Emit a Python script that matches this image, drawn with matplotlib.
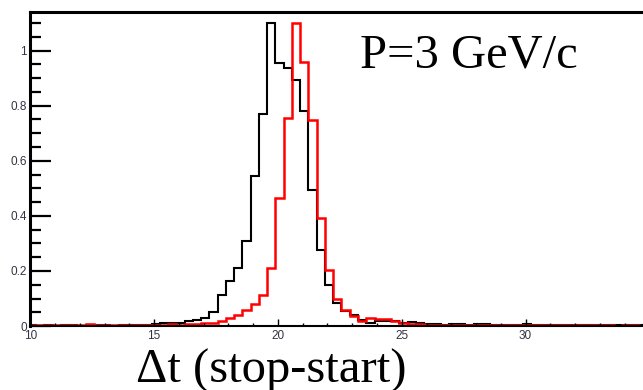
# time difference histograms (stop-start), two momentum hypotheses
import numpy as np
import matplotlib.pyplot as plt

# binning: 76 bins of 1/3 ns starting at 9.9
bin_start = 9.9
bin_width = 1.0 / 3.0

# black histogram contents
black_counts = [0.002, 0, 0.003, 0, 0.002, 0.003, 0, 0.002, 0.004, 0.002,
                0, 0.003, 0.002, 0.004, 0.003, 0.008, 0.01, 0.012, 0.012, 0.02,
                0.022, 0.028, 0.05, 0.113, 0.165, 0.21, 0.31, 0.545, 0.77, 1.10,
                0.955, 0.937, 0.895, 0.78, 0.495, 0.276, 0.149, 0.083, 0.055, 0.04,
                0.022, 0.012, 0.02, 0.02, 0.018, 0.012, 0.015, 0.012, 0.008, 0.006,
                0.005, 0.008, 0.006, 0.004, 0.006, 0.007, 0.005, 0.003, 0.005, 0.004,
                0.006, 0.003, 0.004, 0.005, 0.003, 0.004, 0.002, 0.004, 0.003, 0.005,
                0.002, 0.003, 0.004, 0.002, 0.003, 0.002]

# red histogram contents
red_counts = [0.003, 0.002, 0.003, 0.004, 0.003, 0.002, 0.004, 0.006, 0.004, 0.003,
              0.004, 0.003, 0.004, 0.005, 0.004, 0.005, 0.004, 0.006, 0.005, 0.006,
              0.008, 0.01, 0.012, 0.02, 0.028, 0.04, 0.057, 0.08, 0.113, 0.21,
              0.464, 0.755, 1.10, 0.96, 0.749, 0.392, 0.204, 0.10, 0.06, 0.035,
              0.018, 0.028, 0.026, 0.024, 0.02, 0.012, 0.008, 0.006, 0.005, 0.004,
              0.005, 0.003, 0.004, 0.005, 0.003, 0.004, 0.003, 0.002, 0.003, 0.004,
              0.002, 0.003, 0.002, 0.003, 0.002, 0.002, 0.003, 0.002, 0.002, 0.003,
              0.002, 0.001, 0.002, 0.002, 0.001, 0.002]

x_ticks = [10, 15, 20, 25, 30, 35]
y_ticks = [0, 0.2, 0.4, 0.6, 0.8, 1.0]
y_tick_labels = ["0", "0.2", "0.4", "0.6", "0.8", "1"]

edges = bin_start + bin_width * np.arange(len(black_counts) + 1)

fig = plt.figure(figsize=(6.43, 3.9), dpi=100)
ax = fig.add_axes([0.047, 0.164, 0.963, 0.805])

ax.stairs(black_counts, edges, color="black", linewidth=1.5)
ax.stairs(red_counts, edges, color="red", linewidth=1.8)

ax.set_xlim(10, 35)
ax.set_ylim(0, 1.14)

# root style ticks
ax.set_xticks(x_ticks)
ax.set_xticklabels([str(t) for t in x_ticks])
ax.set_xticks(np.arange(10, 36, 1), minor=True)
ax.set_yticks(y_ticks)
ax.set_yticklabels(y_tick_labels)
ax.set_yticks(np.arange(0, 1.14, 0.05), minor=True)

label_color = "#333344"
ax.tick_params(axis="y", which="major", direction="in", length=15, width=1.6,
               pad=2.5, labelsize=8.5, labelcolor=label_color, labelfontfamily="Liberation Sans")
ax.tick_params(axis="y", which="minor", direction="in", length=8, width=1.6)
ax.tick_params(axis="x", which="major", direction="in", length=5, width=1.0,
               pad=2.5, labelsize=8.5, labelcolor=label_color, labelfontfamily="Liberation Sans")
ax.tick_params(axis="x", which="minor", direction="in", length=2.5, width=1.0)

for side in ["top", "left"]:
    ax.spines[side].set_linewidth(2.2)
ax.spines["bottom"].set_linewidth(1.5)
ax.spines["right"].set_linewidth(1.5)

# big annotations
fig.text(0.56, 0.828, "P=3 GeV/c", fontsize=35, family="Liberation Serif", va="baseline")
fig.text(0.212, 0.02, "\u0394t (stop-start)", fontsize=35, family="Liberation Serif",
         va="baseline")

plt.savefig("out.png", dpi=100)
plt.close()
